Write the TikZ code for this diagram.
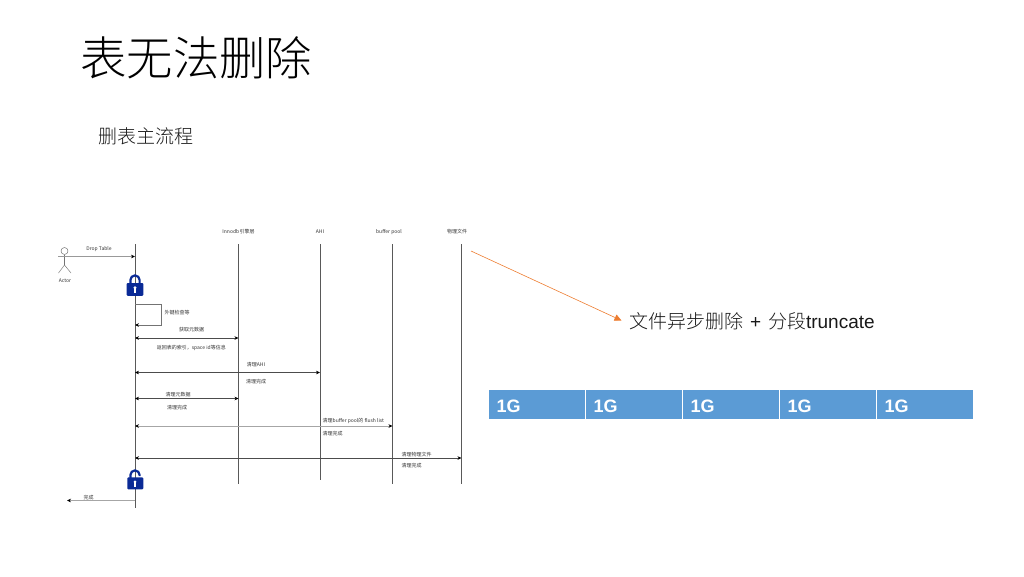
\documentclass[tikz,border=0pt]{standalone}
\usepackage{fontspec}
\setmainfont{Liberation Sans}
\newfontfamily\zhl{Noto Sans CJK SC}[UprightFont={* Light}]
\newfontfamily\zhr{Noto Sans CJK SC}
\usetikzlibrary{arrows.meta}
\definecolor{blockblue}{HTML}{5B9BD5}
\definecolor{lockblue}{HTML}{0A2A96}
\definecolor{arroworange}{HTML}{ED7D31}
\tikzset{
  life/.style={draw=black!65,line width=0.75pt},
  msg/.style={draw=black!70,line width=0.7pt,-{Stealth[length=4pt,width=3.6pt,color=black]}},
  dmsg/.style={draw=black!70,line width=0.7pt,{Stealth[length=4pt,width=3.6pt,color=black]}-{Stealth[length=4pt,width=3.6pt,color=black]}},
  faint/.style={draw=black!35,line width=0.9pt},
  tiny/.style={font=\fontsize{5}{6}\selectfont\zhr,text=black!80,inner sep=0pt,text height=5.4pt,text depth=0pt},
  headline/.style={font=\fontsize{46.4}{50}\selectfont\zhl,text=black,inner sep=0pt,anchor=west},
  sub/.style={font=\fontsize{19}{22}\selectfont\zhl,text=black!90,inner sep=0pt,anchor=west},
  note/.style={font=\fontsize{19}{22}\selectfont,text=black!90,inner sep=0pt,anchor=west},
  seg/.style={fill=blockblue,draw=none,inner sep=0pt,anchor=north west,text=white,font=\fontsize{18}{20}\selectfont\bfseries,align=left,text width=96.4pt,text height=22.3pt,text depth=6.7pt},
  lockc/.style={fill=lockblue,draw=none},
  shack/.style={draw=lockblue,line width=2.2pt},
  actorl/.style={draw=black!55,line width=0.45pt},
}
\newcommand{\gbtext}{\hspace{8pt}1G}
\begin{document}
\begin{tikzpicture}[x=1pt,y=-1pt]
\useasboundingbox (0,0) rectangle (1024,576);
\node[headline] (title) at (80,58) {表无法删除};
\node[sub] (subtitle) at (98,136.5) {删表主流程};
% lifelines
\coordinate (a1) at (135,244); \coordinate (a2) at (135,508);
\coordinate (b1) at (238.5,244); \coordinate (b2) at (238.5,484);
\coordinate (c1) at (320,244); \coordinate (c2) at (320,480);
\coordinate (d1) at (392.5,244); \coordinate (d2) at (392.5,484);
\coordinate (e1) at (461.5,244); \coordinate (e2) at (461.5,484);
\draw[life] (a1) -- (a2);
\draw[life] (b1) -- (b2);
\draw[life] (c1) -- (c2);
\draw[life] (d1) -- (d2);
\draw[life] (e1) -- (e2);
\node[tiny] (hb) at (238.5,231) {Innodb\hspace{0.3pt}引擎层};
\node[tiny] (hc) at (320,231) {AHI};
\node[tiny] (hd) at (389,231) {buffer pool};
\node[tiny] (he) at (457,231) {物理文件};
% actor
\node[circle,draw=black!60,line width=0.45pt,minimum size=7pt,inner sep=0pt] (head) at (64.5,251) {};
\coordinate (hip) at (64.5,265);
\coordinate (legl) at (58.5,273); \coordinate (legr) at (71,273);
\draw[actorl] (head.south) -- (hip);
\draw[actorl] (legl) -- (hip) -- (legr);
\node[tiny] (actor) at (65,280) {Actor};
% Drop Table
\coordinate (dt) at (58,256.5); \coordinate (dta) at (135,256.5);
\draw[msg,draw=black!40] (dt) -- (dta);
\node[tiny] (ldt) at (99,248) {Drop Table};
% locks
\draw[shack] (130.4,285) -- (130.4,280) arc[start angle=180,end angle=360,radius=4.6] -- (139.6,285);
\path[lockc,rounded corners=1pt] (126.7,283) rectangle (143.3,295.8);
\path[fill=white] (135,287.8) circle[radius=1.6];
\path[fill=white] (134.4,287.8) rectangle (135.6,293);
\draw[shack] (130.4,479) -- (130.4,475) arc[start angle=180,end angle=360,radius=4.6] -- (139.6,476);
\path[lockc,rounded corners=1pt] (127.3,477.3) rectangle (143.3,489.3);
\path[fill=white] (135,481.8) circle[radius=1.5];
\path[fill=white] (134.4,481.8) rectangle (135.6,487);
% self loop
\coordinate (s1) at (135,304); \coordinate (s2) at (161,304); \coordinate (s3) at (161,325); \coordinate (s4) at (135,325);
\draw[msg,draw=black!55] (s1) -- (s2) -- (s3) -- (s4);
\node[tiny] (l1) at (177,312) {外键检查等};
% messages
\coordinate (m1a) at (135,338); \coordinate (m1b) at (238.5,338);
\draw[dmsg] (m1a) -- (m1b);
\node[tiny] (l2) at (191.5,329) {获取元数据};
\node[tiny] (l3) at (191.3,347) {返回表的索引，space id等信息};
\coordinate (m2a) at (135,372.5); \coordinate (m2b) at (320,372.5);
\draw[dmsg] (m2a) -- (m2b);
\node[tiny] (l4) at (256,363.5) {清理AHI};
\node[tiny] (l5) at (256,381) {清理完成};
\coordinate (m3a) at (135,398.5); \coordinate (m3b) at (238.5,398.5);
\draw[dmsg] (m3a) -- (m3b);
\node[tiny] (l6) at (178,394) {清理元数据};
\node[tiny] (l7) at (177,406.5) {清理完成};
\coordinate (m4a) at (135,426); \coordinate (m4b) at (392.5,426);
\draw[dmsg,faint] (m4a) -- (m4b);
\node[tiny,anchor=west] (l8) at (322.5,419.3) {清理buffer pool的 flush list};
\node[tiny,anchor=west] (l9) at (322.5,432.5) {清理完成};
\coordinate (m5a) at (135,458); \coordinate (m5b) at (461.5,458);
\draw[dmsg] (m5a) -- (m5b);
\node[tiny,anchor=west] (l10) at (401.5,453.7) {清理物理文件};
\node[tiny,anchor=west] (l11) at (401.5,464.3) {清理完成};
\coordinate (m6a) at (135,500.5); \coordinate (m6b) at (67,500.5);
\draw[msg,faint] (m6a) -- (m6b);
\node[tiny] (l12) at (88.7,496.7) {完成};
% orange arrow
\node[note] (async) at (629,321) {{\zhl 文件异步删除}\hspace{1.6pt} + \hspace{1.6pt}{\zhl 分段}truncate};
\coordinate (oa) at (471,251);
\draw[draw=arroworange,line width=0.6pt,-{Triangle[length=7pt,width=6.5pt]}] (oa) -- (621.5,320.5);
% blocks
\node[seg] (g1) at (488.3,390) {\gbtext};
\node[seg] (g2) at (585.4,390) {\gbtext};
\node[seg] (g3) at (682.5,390) {\gbtext};
\node[seg] (g4) at (779.5,390) {\gbtext};
\node[seg] (g5) at (876.5,390) {\gbtext};
\end{tikzpicture}
\end{document}
